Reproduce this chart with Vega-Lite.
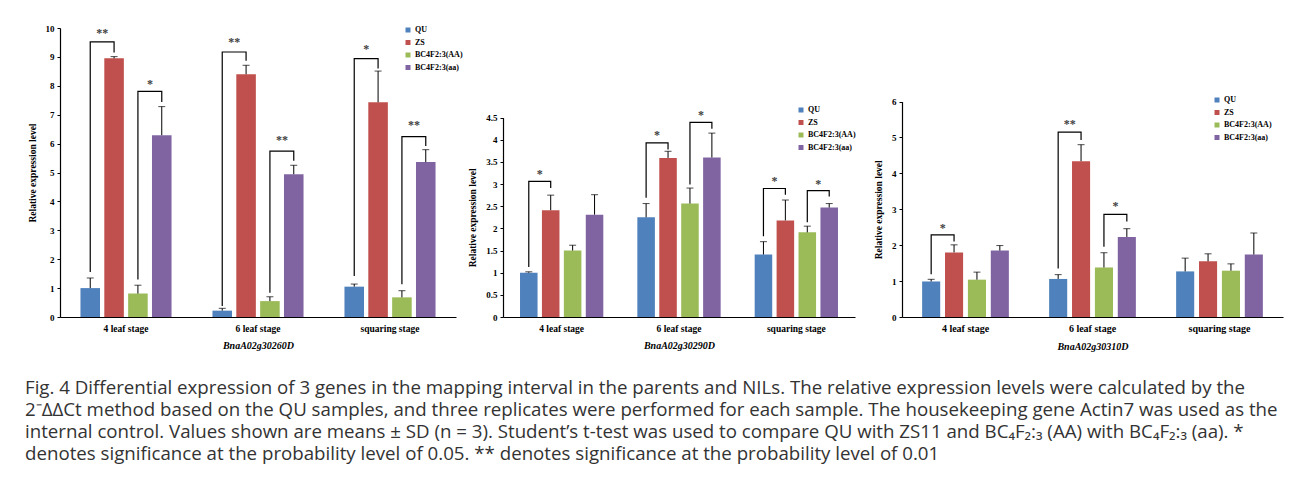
{
  "$schema": "https://vega.github.io/schema/vega-lite/v6.json",
  "padding": {"left": 25, "top": 24, "right": 5, "bottom": 5},
  "background": "white",
  "title": {
    "text": [
      "Fig. 4 Differential expression of 3 genes in the mapping interval in the parents and NILs. The relative expression levels were calculated by the",
      "2⁻ΔΔCt method based on the QU samples, and three replicates were performed for each sample. The housekeeping gene Actin7 was used as the",
      "internal control. Values shown are means ± SD (n = 3). Student’s t-test was used to compare QU with ZS11 and BC₄F₂:₃ (AA) with BC₄F₂:₃ (aa). *",
      "denotes significance at the probability level of 0.05. ** denotes significance at the probability level of 0.01"
    ],
    "orient": "bottom",
    "anchor": "start",
    "frame": "bounds",
    "offset": 28,
    "dx": -2,
    "font": "Open Sans",
    "fontSize": 18.7,
    "fontWeight": "normal",
    "lineHeight": 22,
    "color": "#333333"
  },
  "datasets": {
    "p1": [
      {"stage": "4 leaf stage", "grp": "QU", "value": 1.0, "err": 1.35},
      {"stage": "4 leaf stage", "grp": "ZS", "value": 8.95, "err": 9.01},
      {"stage": "4 leaf stage", "grp": "BC4F2:3(AA)", "value": 0.81, "err": 1.1},
      {"stage": "4 leaf stage", "grp": "BC4F2:3(aa)", "value": 6.29, "err": 7.28},
      {"stage": "6 leaf stage", "grp": "QU", "value": 0.22, "err": 0.3},
      {"stage": "6 leaf stage", "grp": "ZS", "value": 8.4, "err": 8.71},
      {"stage": "6 leaf stage", "grp": "BC4F2:3(AA)", "value": 0.55, "err": 0.7},
      {"stage": "6 leaf stage", "grp": "BC4F2:3(aa)", "value": 4.94, "err": 5.25},
      {"stage": "squaring stage", "grp": "QU", "value": 1.05, "err": 1.14},
      {"stage": "squaring stage", "grp": "ZS", "value": 7.43, "err": 8.51},
      {"stage": "squaring stage", "grp": "BC4F2:3(AA)", "value": 0.68, "err": 0.91},
      {"stage": "squaring stage", "grp": "BC4F2:3(aa)", "value": 5.36, "err": 5.79}
    ],
    "p2": [
      {"stage": "4 leaf stage", "grp": "QU", "value": 1.0, "err": 1.02},
      {"stage": "4 leaf stage", "grp": "ZS", "value": 2.41, "err": 2.75},
      {"stage": "4 leaf stage", "grp": "BC4F2:3(AA)", "value": 1.5, "err": 1.62},
      {"stage": "4 leaf stage", "grp": "BC4F2:3(aa)", "value": 2.31, "err": 2.76},
      {"stage": "6 leaf stage", "grp": "QU", "value": 2.25, "err": 2.56},
      {"stage": "6 leaf stage", "grp": "ZS", "value": 3.59, "err": 3.74},
      {"stage": "6 leaf stage", "grp": "BC4F2:3(AA)", "value": 2.56, "err": 2.91},
      {"stage": "6 leaf stage", "grp": "BC4F2:3(aa)", "value": 3.6, "err": 4.15},
      {"stage": "squaring stage", "grp": "QU", "value": 1.41, "err": 1.7},
      {"stage": "squaring stage", "grp": "ZS", "value": 2.18, "err": 2.64},
      {"stage": "squaring stage", "grp": "BC4F2:3(AA)", "value": 1.91, "err": 2.05},
      {"stage": "squaring stage", "grp": "BC4F2:3(aa)", "value": 2.47, "err": 2.56}
    ],
    "p3": [
      {"stage": "4 leaf stage", "grp": "QU", "value": 0.99, "err": 1.05},
      {"stage": "4 leaf stage", "grp": "ZS", "value": 1.8, "err": 2.01},
      {"stage": "4 leaf stage", "grp": "BC4F2:3(AA)", "value": 1.04, "err": 1.25},
      {"stage": "4 leaf stage", "grp": "BC4F2:3(aa)", "value": 1.85, "err": 1.99},
      {"stage": "6 leaf stage", "grp": "QU", "value": 1.06, "err": 1.18},
      {"stage": "6 leaf stage", "grp": "ZS", "value": 4.34, "err": 4.8},
      {"stage": "6 leaf stage", "grp": "BC4F2:3(AA)", "value": 1.38, "err": 1.79},
      {"stage": "6 leaf stage", "grp": "BC4F2:3(aa)", "value": 2.23, "err": 2.46},
      {"stage": "squaring stage", "grp": "QU", "value": 1.27, "err": 1.64},
      {"stage": "squaring stage", "grp": "ZS", "value": 1.55, "err": 1.76},
      {"stage": "squaring stage", "grp": "BC4F2:3(AA)", "value": 1.29, "err": 1.48},
      {"stage": "squaring stage", "grp": "BC4F2:3(aa)", "value": 1.74, "err": 2.34}
    ],
    "b1": [
      {"id": 1, "ord": 1, "stage": "4 leaf stage", "grp": "QU", "v": 1.56},
      {"id": 1, "ord": 2, "stage": "4 leaf stage", "grp": "QU", "v": 9.52},
      {"id": 1, "ord": 3, "stage": "4 leaf stage", "grp": "ZS", "v": 9.52},
      {"id": 1, "ord": 4, "stage": "4 leaf stage", "grp": "ZS", "v": 9.15},
      {"id": 2, "ord": 1, "stage": "4 leaf stage", "grp": "BC4F2:3(AA)", "v": 1.3},
      {"id": 2, "ord": 2, "stage": "4 leaf stage", "grp": "BC4F2:3(AA)", "v": 7.81},
      {"id": 2, "ord": 3, "stage": "4 leaf stage", "grp": "BC4F2:3(aa)", "v": 7.81},
      {"id": 2, "ord": 4, "stage": "4 leaf stage", "grp": "BC4F2:3(aa)", "v": 7.44},
      {"id": 3, "ord": 1, "stage": "6 leaf stage", "grp": "QU", "v": 0.38},
      {"id": 3, "ord": 2, "stage": "6 leaf stage", "grp": "QU", "v": 9.17},
      {"id": 3, "ord": 3, "stage": "6 leaf stage", "grp": "ZS", "v": 9.17},
      {"id": 3, "ord": 4, "stage": "6 leaf stage", "grp": "ZS", "v": 8.87},
      {"id": 4, "ord": 1, "stage": "6 leaf stage", "grp": "BC4F2:3(AA)", "v": 0.84},
      {"id": 4, "ord": 2, "stage": "6 leaf stage", "grp": "BC4F2:3(AA)", "v": 5.74},
      {"id": 4, "ord": 3, "stage": "6 leaf stage", "grp": "BC4F2:3(aa)", "v": 5.74},
      {"id": 4, "ord": 4, "stage": "6 leaf stage", "grp": "BC4F2:3(aa)", "v": 5.41},
      {"id": 5, "ord": 1, "stage": "squaring stage", "grp": "QU", "v": 1.42},
      {"id": 5, "ord": 2, "stage": "squaring stage", "grp": "QU", "v": 8.94},
      {"id": 5, "ord": 3, "stage": "squaring stage", "grp": "ZS", "v": 8.94},
      {"id": 5, "ord": 4, "stage": "squaring stage", "grp": "ZS", "v": 8.6},
      {"id": 6, "ord": 1, "stage": "squaring stage", "grp": "BC4F2:3(AA)", "v": 1.13},
      {"id": 6, "ord": 2, "stage": "squaring stage", "grp": "BC4F2:3(AA)", "v": 6.24},
      {"id": 6, "ord": 3, "stage": "squaring stage", "grp": "BC4F2:3(aa)", "v": 6.24},
      {"id": 6, "ord": 4, "stage": "squaring stage", "grp": "BC4F2:3(aa)", "v": 5.92}
    ],
    "b2": [
      {"id": 1, "ord": 1, "stage": "4 leaf stage", "grp": "QU", "v": 1.13},
      {"id": 1, "ord": 2, "stage": "4 leaf stage", "grp": "QU", "v": 3.06},
      {"id": 1, "ord": 3, "stage": "4 leaf stage", "grp": "ZS", "v": 3.06},
      {"id": 1, "ord": 4, "stage": "4 leaf stage", "grp": "ZS", "v": 2.91},
      {"id": 2, "ord": 1, "stage": "6 leaf stage", "grp": "QU", "v": 2.69},
      {"id": 2, "ord": 2, "stage": "6 leaf stage", "grp": "QU", "v": 3.93},
      {"id": 2, "ord": 3, "stage": "6 leaf stage", "grp": "ZS", "v": 3.93},
      {"id": 2, "ord": 4, "stage": "6 leaf stage", "grp": "ZS", "v": 3.78},
      {"id": 3, "ord": 1, "stage": "6 leaf stage", "grp": "BC4F2:3(AA)", "v": 2.99},
      {"id": 3, "ord": 2, "stage": "6 leaf stage", "grp": "BC4F2:3(AA)", "v": 4.39},
      {"id": 3, "ord": 3, "stage": "6 leaf stage", "grp": "BC4F2:3(aa)", "v": 4.39},
      {"id": 3, "ord": 4, "stage": "6 leaf stage", "grp": "BC4F2:3(aa)", "v": 4.25},
      {"id": 4, "ord": 1, "stage": "squaring stage", "grp": "QU", "v": 1.82},
      {"id": 4, "ord": 2, "stage": "squaring stage", "grp": "QU", "v": 2.9},
      {"id": 4, "ord": 3, "stage": "squaring stage", "grp": "ZS", "v": 2.9},
      {"id": 4, "ord": 4, "stage": "squaring stage", "grp": "ZS", "v": 2.76},
      {"id": 5, "ord": 1, "stage": "squaring stage", "grp": "BC4F2:3(AA)", "v": 2.14},
      {"id": 5, "ord": 2, "stage": "squaring stage", "grp": "BC4F2:3(AA)", "v": 2.85},
      {"id": 5, "ord": 3, "stage": "squaring stage", "grp": "BC4F2:3(aa)", "v": 2.85},
      {"id": 5, "ord": 4, "stage": "squaring stage", "grp": "BC4F2:3(aa)", "v": 2.72}
    ],
    "b3": [
      {"id": 1, "ord": 1, "stage": "4 leaf stage", "grp": "QU", "v": 1.19},
      {"id": 1, "ord": 2, "stage": "4 leaf stage", "grp": "QU", "v": 2.29},
      {"id": 1, "ord": 3, "stage": "4 leaf stage", "grp": "ZS", "v": 2.29},
      {"id": 1, "ord": 4, "stage": "4 leaf stage", "grp": "ZS", "v": 2.1},
      {"id": 2, "ord": 1, "stage": "6 leaf stage", "grp": "QU", "v": 1.35},
      {"id": 2, "ord": 2, "stage": "6 leaf stage", "grp": "QU", "v": 5.15},
      {"id": 2, "ord": 3, "stage": "6 leaf stage", "grp": "ZS", "v": 5.15},
      {"id": 2, "ord": 4, "stage": "6 leaf stage", "grp": "ZS", "v": 4.93},
      {"id": 3, "ord": 1, "stage": "6 leaf stage", "grp": "BC4F2:3(AA)", "v": 1.96},
      {"id": 3, "ord": 2, "stage": "6 leaf stage", "grp": "BC4F2:3(AA)", "v": 2.86},
      {"id": 3, "ord": 3, "stage": "6 leaf stage", "grp": "BC4F2:3(aa)", "v": 2.86},
      {"id": 3, "ord": 4, "stage": "6 leaf stage", "grp": "BC4F2:3(aa)", "v": 2.66}
    ],
    "s1": [
      {"stage": "4 leaf stage", "grp": "QU", "v": 9.84, "t": "**"},
      {"stage": "4 leaf stage", "grp": "BC4F2:3(AA)", "v": 8.05, "t": "*"},
      {"stage": "6 leaf stage", "grp": "QU", "v": 9.52, "t": "**"},
      {"stage": "6 leaf stage", "grp": "BC4F2:3(AA)", "v": 6.11, "t": "**"},
      {"stage": "squaring stage", "grp": "QU", "v": 9.26, "t": "*"},
      {"stage": "squaring stage", "grp": "BC4F2:3(AA)", "v": 6.63, "t": "**"}
    ],
    "s2": [
      {"stage": "4 leaf stage", "grp": "QU", "v": 3.23, "t": "*"},
      {"stage": "6 leaf stage", "grp": "QU", "v": 4.1, "t": "*"},
      {"stage": "6 leaf stage", "grp": "BC4F2:3(AA)", "v": 4.55, "t": "*"},
      {"stage": "squaring stage", "grp": "QU", "v": 3.06, "t": "*"},
      {"stage": "squaring stage", "grp": "BC4F2:3(AA)", "v": 3.01, "t": "*"}
    ],
    "s3": [
      {"stage": "4 leaf stage", "grp": "QU", "v": 2.47, "t": "*"},
      {"stage": "6 leaf stage", "grp": "QU", "v": 5.38, "t": "**"},
      {"stage": "6 leaf stage", "grp": "BC4F2:3(AA)", "v": 3.08, "t": "*"}
    ]
  },
  "hconcat": [
    {
      "width": 396,
      "height": 289,
      "encoding": {
        "x": {"field": "stage", "type": "nominal", "sort": ["4 leaf stage", "6 leaf stage", "squaring stage"], "scale": {"paddingInner": 0.31, "paddingOuter": 0.155}, "axis": {"title": "BnaA02g30260D", "titleFontStyle": "italic", "labelAngle": 0, "ticks": false, "labelFontSize": 9.5, "titleFontSize": 10, "labelPadding": 6, "titlePadding": 8}},
        "xOffset": {"field": "grp", "type": "nominal", "scale": {"domain": ["QU", "ZS", "BC4F2:3(AA)", "BC4F2:3(aa)"], "paddingInner": 0.18, "paddingOuter": 0}}
      },
      "layer": [
        {
          "data": {"name": "p1"},
          "mark": {"type": "bar"},
          "encoding": {
            "y": {"field": "value", "type": "quantitative", "scale": {"domain": [0, 10], "nice": false}, "axis": {"title": "Relative expression level", "values": [0, 1, 2, 3, 4, 5, 6, 7, 8, 9, 10], "tickCount": 20}},
            "color": {"field": "grp", "type": "nominal", "scale": {"domain": ["QU", "ZS", "BC4F2:3(AA)", "BC4F2:3(aa)"], "range": ["#4F81BD", "#C0504D", "#9BBB59", "#8064A2"]}, "legend": {"title": null, "orient": "none", "legendX": 344, "legendY": -2}}
          }
        },
        {
          "data": {"name": "p1"},
          "mark": {"type": "rule", "color": "#000000", "strokeWidth": 1},
          "encoding": {"y": {"field": "value", "type": "quantitative", "axis": {"title": "Relative expression level", "values": [0, 1, 2, 3, 4, 5, 6, 7, 8, 9, 10], "tickCount": 20}}, "y2": {"field": "err"}}
        },
        {
          "data": {"name": "p1"},
          "mark": {"type": "tick", "color": "#000000", "thickness": 1, "size": 7},
          "encoding": {"y": {"field": "err", "type": "quantitative", "axis": {"title": "Relative expression level", "values": [0, 1, 2, 3, 4, 5, 6, 7, 8, 9, 10], "tickCount": 20}}}
        },
        {
          "data": {"name": "b1"},
          "mark": {"type": "line", "color": "#000000", "strokeWidth": 1.2},
          "encoding": {"y": {"field": "v", "type": "quantitative", "axis": {"title": "Relative expression level", "values": [0, 1, 2, 3, 4, 5, 6, 7, 8, 9, 10], "tickCount": 20}}, "detail": {"field": "id"}, "order": {"field": "ord"}}
        },
        {
          "data": {"name": "s1"},
          "mark": {"type": "text", "dx": 12, "baseline": "middle", "font": "Liberation Serif", "fontSize": 12, "fontWeight": "bold", "color": "#404040"},
          "encoding": {"y": {"field": "v", "type": "quantitative", "axis": {"title": "Relative expression level", "values": [0, 1, 2, 3, 4, 5, 6, 7, 8, 9, 10], "tickCount": 20}}, "text": {"field": "t"}}
        }
      ]
    },
    {
      "width": 352,
      "height": 289,
      "encoding": {
        "x": {"field": "stage", "type": "nominal", "sort": ["4 leaf stage", "6 leaf stage", "squaring stage"], "scale": {"paddingInner": 0.29, "paddingOuter": 0.145}, "axis": {"title": "BnaA02g30290D", "titleFontStyle": "italic", "labelAngle": 0, "ticks": false, "labelFontSize": 9.5, "titleFontSize": 10, "labelPadding": 6, "titlePadding": 8}},
        "xOffset": {"field": "grp", "type": "nominal", "scale": {"domain": ["QU", "ZS", "BC4F2:3(AA)", "BC4F2:3(aa)"], "paddingInner": 0.2, "paddingOuter": 0}}
      },
      "layer": [
        {
          "data": {"name": "p2"},
          "mark": {"type": "bar"},
          "encoding": {
            "y": {"field": "value", "type": "quantitative", "scale": {"domain": [0, 4.5], "nice": false, "range": [289, 89.6]}, "axis": {"title": "Relative expression level", "values": [0, 0.5, 1, 1.5, 2, 2.5, 3, 3.5, 4, 4.5], "tickCount": 20}},
            "color": {"field": "grp", "type": "nominal", "scale": {"domain": ["QU", "ZS", "BC4F2:3(AA)", "BC4F2:3(aa)"], "range": ["#4F81BD", "#C0504D", "#9BBB59", "#8064A2"]}, "legend": {"title": null, "orient": "none", "legendX": 294, "legendY": 78}}
          }
        },
        {
          "data": {"name": "p2"},
          "mark": {"type": "rule", "color": "#000000", "strokeWidth": 1},
          "encoding": {"y": {"field": "value", "type": "quantitative", "axis": {"title": "Relative expression level", "values": [0, 0.5, 1, 1.5, 2, 2.5, 3, 3.5, 4, 4.5], "tickCount": 20}}, "y2": {"field": "err"}}
        },
        {
          "data": {"name": "p2"},
          "mark": {"type": "tick", "color": "#000000", "thickness": 1, "size": 7},
          "encoding": {"y": {"field": "err", "type": "quantitative", "axis": {"title": "Relative expression level", "values": [0, 0.5, 1, 1.5, 2, 2.5, 3, 3.5, 4, 4.5], "tickCount": 20}}}
        },
        {
          "data": {"name": "b2"},
          "mark": {"type": "line", "color": "#000000", "strokeWidth": 1.2},
          "encoding": {"y": {"field": "v", "type": "quantitative", "axis": {"title": "Relative expression level", "values": [0, 0.5, 1, 1.5, 2, 2.5, 3, 3.5, 4, 4.5], "tickCount": 20}}, "detail": {"field": "id"}, "order": {"field": "ord"}}
        },
        {
          "data": {"name": "s2"},
          "mark": {"type": "text", "dx": 11, "baseline": "middle", "font": "Liberation Serif", "fontSize": 12, "fontWeight": "bold", "color": "#404040"},
          "encoding": {"y": {"field": "v", "type": "quantitative", "axis": {"title": "Relative expression level", "values": [0, 0.5, 1, 1.5, 2, 2.5, 3, 3.5, 4, 4.5], "tickCount": 20}}, "text": {"field": "t"}}
        }
      ]
    },
    {
      "width": 381,
      "height": 289,
      "encoding": {
        "x": {"field": "stage", "type": "nominal", "sort": ["4 leaf stage", "6 leaf stage", "squaring stage"], "scale": {"paddingInner": 0.317, "paddingOuter": 0.1585}, "axis": {"title": "BnaA02g30310D", "titleFontStyle": "italic", "labelAngle": 0, "ticks": false, "labelFontSize": 10, "titleFontSize": 10, "labelPadding": 6, "titlePadding": 8}},
        "xOffset": {"field": "grp", "type": "nominal", "scale": {"domain": ["QU", "ZS", "BC4F2:3(AA)", "BC4F2:3(aa)"], "paddingInner": 0.21, "paddingOuter": 0}}
      },
      "layer": [
        {
          "data": {"name": "p3"},
          "mark": {"type": "bar"},
          "encoding": {
            "y": {"field": "value", "type": "quantitative", "scale": {"domain": [0, 6], "nice": false, "range": [289, 73.6]}, "axis": {"title": "Relative expression level", "values": [0, 1, 2, 3, 4, 5, 6], "tickCount": 20}},
            "color": {"field": "grp", "type": "nominal", "scale": {"domain": ["QU", "ZS", "BC4F2:3(AA)", "BC4F2:3(aa)"], "range": ["#4F81BD", "#C0504D", "#9BBB59", "#8064A2"]}, "legend": {"title": null, "orient": "none", "legendX": 311, "legendY": 68}}
          }
        },
        {
          "data": {"name": "p3"},
          "mark": {"type": "rule", "color": "#000000", "strokeWidth": 1},
          "encoding": {"y": {"field": "value", "type": "quantitative", "axis": {"title": "Relative expression level", "values": [0, 1, 2, 3, 4, 5, 6], "tickCount": 20}}, "y2": {"field": "err"}}
        },
        {
          "data": {"name": "p3"},
          "mark": {"type": "tick", "color": "#000000", "thickness": 1, "size": 7},
          "encoding": {"y": {"field": "err", "type": "quantitative", "axis": {"title": "Relative expression level", "values": [0, 1, 2, 3, 4, 5, 6], "tickCount": 20}}}
        },
        {
          "data": {"name": "b3"},
          "mark": {"type": "line", "color": "#000000", "strokeWidth": 1.2},
          "encoding": {"y": {"field": "v", "type": "quantitative", "axis": {"title": "Relative expression level", "values": [0, 1, 2, 3, 4, 5, 6], "tickCount": 20}}, "detail": {"field": "id"}, "order": {"field": "ord"}}
        },
        {
          "data": {"name": "s3"},
          "mark": {"type": "text", "dx": 11.5, "baseline": "middle", "font": "Liberation Serif", "fontSize": 12, "fontWeight": "bold", "color": "#404040"},
          "encoding": {"y": {"field": "v", "type": "quantitative", "axis": {"title": "Relative expression level", "values": [0, 1, 2, 3, 4, 5, 6], "tickCount": 20}}, "text": {"field": "t"}}
        }
      ]
    }
  ],
  "spacing": 47,
  "bounds": "flush",
  "resolve": {"scale": {"color": "independent", "x": "independent", "y": "independent", "xOffset": "independent"}, "legend": {"color": "independent"}},
  "config": {
    "view": {"stroke": null},
    "axis": {"domainColor": "#000000", "tickColor": "#000000", "labelColor": "#000000", "titleColor": "#000000", "labelFont": "Liberation Serif", "titleFont": "Liberation Serif", "labelFontWeight": "bold", "titleFontWeight": "bold", "grid": false, "domainWidth": 1.2},
    "axisY": {"tickCount": 20, "format": "~f", "labelOverlap": false, "labelFlush": false, "labelFontSize": 9, "titleFontSize": 9.5, "tickSize": 3, "labelPadding": 3, "titlePadding": 8},
    "legend": {"symbolType": "square", "symbolSize": 25, "symbolStrokeWidth": 0, "labelFont": "Liberation Serif", "labelFontWeight": "bold", "labelFontSize": 8, "labelColor": "#000000", "labelOffset": 3, "rowPadding": 4.5, "padding": 0}
  }
}
